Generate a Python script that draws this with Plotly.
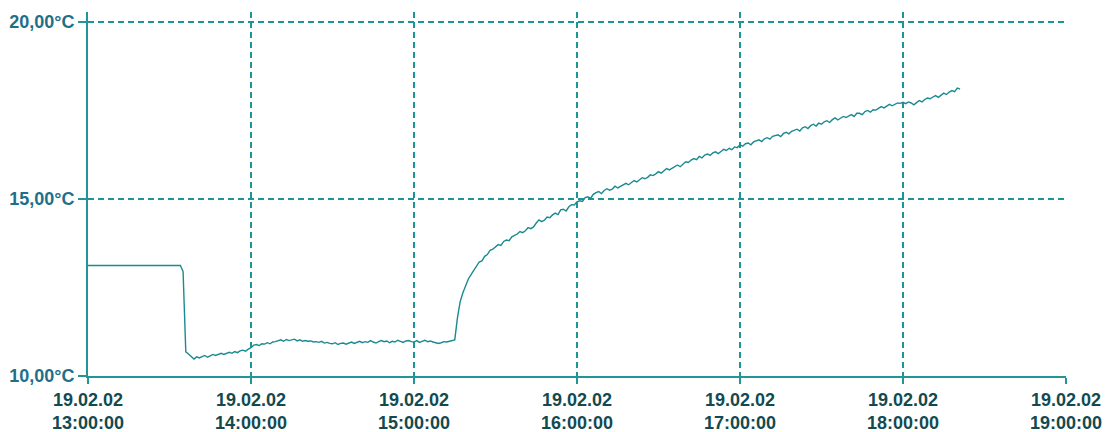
import pandas as pd
import plotly.graph_objects as go

# Logger readings, one per minute from 19.02.02 13:00
start = "2002-02-19 13:00:00"
temps = [
    # 13:00 - 13:34 probe still at the first station
    13.12, 13.12, 13.12, 13.12, 13.12, 13.12, 13.12, 13.12, 13.12, 13.12,
    13.12, 13.12, 13.12, 13.12, 13.12, 13.12, 13.12, 13.12, 13.12, 13.12,
    13.12, 13.12, 13.12, 13.12, 13.12, 13.12, 13.12, 13.12, 13.12, 13.12,
    13.12, 13.12, 13.12, 13.12, 13.12,
    # 13:35 - 13:39 drop
    12.95, 10.68, 10.62, 10.55, 10.48,
    10.54, 10.51, 10.55, 10.58, 10.53, 10.57, 10.61, 10.58, 10.60, 10.64,
    10.61, 10.63, 10.67, 10.64, 10.69, 10.66, 10.71, 10.73, 10.70, 10.76,
    10.80, 10.87, 10.89, 10.86, 10.91, 10.90, 10.94, 10.91, 10.96, 10.97,
    10.99, 11.02, 10.98, 11.03, 11.00, 11.01, 11.04, 10.99, 11.02, 10.98,
    11.00, 10.98, 10.99, 10.96, 10.97, 10.95, 10.98, 10.93, 10.95, 10.92,
    10.91, 10.94, 10.89, 10.92, 10.93, 10.90, 10.94, 10.96, 10.92, 10.95,
    10.98, 10.94, 10.97, 10.95, 11.00, 10.96, 10.93, 10.97, 11.00, 10.97,
    10.99, 10.94, 10.98, 10.96, 11.01, 10.98, 10.95, 10.99, 11.00, 10.97,
    10.96, 11.00, 10.95, 10.98, 11.01, 10.97, 10.99, 10.96, 10.93, 10.92,
    10.94, 10.97, 10.96, 10.98, 11.00,
    # 15:15 onwards warming up
    11.02, 11.65, 12.10, 12.35, 12.56,
    12.74, 12.86, 12.99, 13.10, 13.22, 13.25, 13.38, 13.43, 13.55, 13.58,
    13.66, 13.71, 13.69, 13.80, 13.84, 13.82, 13.93, 13.96, 14.01, 14.08,
    14.05, 14.10, 14.19, 14.16, 14.21, 14.32, 14.41, 14.36, 14.40, 14.49,
    14.47, 14.55, 14.60, 14.56, 14.69, 14.71, 14.66, 14.78, 14.84, 14.83,
    14.92, 14.95, 14.93, 15.04, 15.06, 15.02, 15.13, 15.18, 15.21, 15.15,
    15.24, 15.29, 15.25, 15.28, 15.36, 15.31, 15.35, 15.41, 15.44, 15.40,
    15.47, 15.52, 15.48, 15.54, 15.60, 15.57, 15.61, 15.68, 15.66, 15.71,
    15.77, 15.73, 15.81, 15.86, 15.82, 15.87, 15.93, 15.96, 15.91, 15.99,
    16.05, 16.03, 16.10, 16.14, 16.11, 16.20, 16.16, 16.24, 16.27, 16.23,
    16.30, 16.33, 16.28, 16.34, 16.40, 16.37, 16.43, 16.39, 16.47, 16.45,
    16.53, 16.49, 16.56, 16.58, 16.53, 16.61, 16.64, 16.67, 16.62, 16.70,
    16.73, 16.69, 16.77, 16.80, 16.81, 16.76, 16.85, 16.88, 16.84, 16.91,
    16.95, 16.97, 16.92, 17.01, 17.04, 16.99, 17.07, 17.11, 17.06, 17.14,
    17.11, 17.18, 17.21, 17.16, 17.24, 17.29, 17.23, 17.28, 17.33, 17.30,
    17.35, 17.38, 17.33, 17.42, 17.42, 17.38, 17.47, 17.50, 17.45, 17.52,
    17.51, 17.56, 17.61, 17.57, 17.62, 17.67, 17.63, 17.66, 17.71, 17.70,
    17.73, 17.69, 17.74, 17.71, 17.66, 17.72, 17.78, 17.74, 17.81, 17.85,
    17.83, 17.88, 17.92, 17.87, 17.94, 17.99, 17.95, 18.02, 18.06, 18.03,
    18.13, 18.10,
]

y_ticks = [10, 15, 20]
y_tick_labels = ["10,00°C", "15,00°C", "20,00°C"]
x_ticks = ["2002-02-19 13:00", "2002-02-19 14:00", "2002-02-19 15:00",
           "2002-02-19 16:00", "2002-02-19 17:00", "2002-02-19 18:00",
           "2002-02-19 19:00"]
x_tick_labels = ["19.02.02<br>13:00:00", "19.02.02<br>14:00:00",
                 "19.02.02<br>15:00:00", "19.02.02<br>16:00:00",
                 "19.02.02<br>17:00:00", "19.02.02<br>18:00:00",
                 "19.02.02<br>19:00:00"]

times = pd.date_range(start, periods=len(temps), freq="1min")

AXIS = "#229595"
GRID = "#1b9595"

fig = go.Figure()
fig.add_trace(go.Scatter(
    x=times, y=temps, mode="lines",
    line=dict(color="#1a8a91", width=1.4),
    showlegend=False, hoverinfo="x+y",
))

fig.update_layout(
    width=1108, height=432,
    margin=dict(l=88, r=42, t=12, b=56, pad=0),
    paper_bgcolor="white", plot_bgcolor="white",
    font=dict(family="Liberation Sans, Arial, sans-serif"),
)

fig.update_xaxes(
    range=["2002-02-19 13:00", "2002-02-19 19:00"],
    tickvals=x_ticks, ticktext=x_tick_labels,
    tickfont=dict(size=18, color="#124a50", weight="bold"),
    ticks="outside", ticklen=6, tickwidth=1.5, tickcolor=AXIS,
    showline=True, linecolor=AXIS, linewidth=1.8,
    showgrid=True, gridcolor=GRID, gridwidth=1.5, griddash="6px,4px",
    zeroline=False, fixedrange=True, automargin=False,
)
fig.update_yaxes(
    range=[10, 20.28],
    tickvals=y_ticks, ticktext=y_tick_labels,
    tickfont=dict(size=18, color="#1f6f8b", weight="bold"),
    ticks="outside", ticklen=8, tickwidth=1.5, tickcolor=AXIS,
    showline=True, linecolor=AXIS, linewidth=1.8,
    showgrid=True, gridcolor=GRID, gridwidth=1.5, griddash="6px,4px",
    zeroline=False, fixedrange=True, automargin=False,
)

fig.write_html("out.html", config={"displayModeBar": False})
